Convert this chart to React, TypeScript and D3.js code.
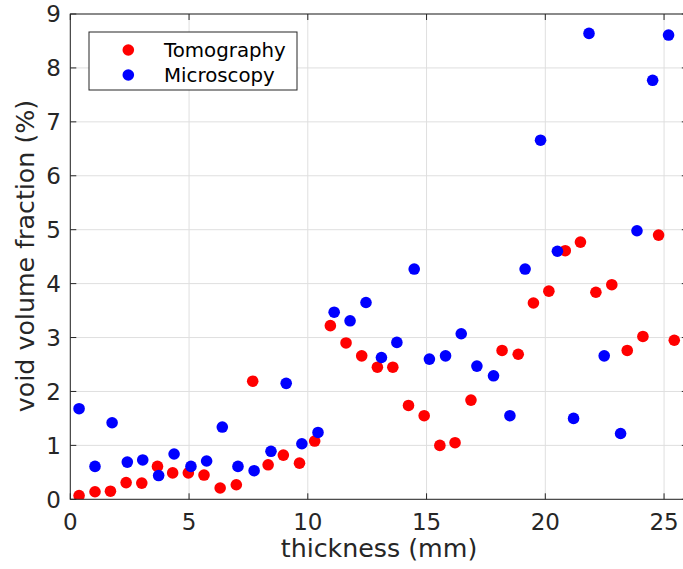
import React from "react";
import * as d3 from "d3";

const tomoX = [0.37,1.04,1.69,2.35,3.01,3.67,4.31,4.97,5.63,6.31,6.99,7.68,8.33,8.97,9.65,10.29,10.95,11.61,12.27,12.93,13.58,14.24,14.90,15.56,16.20,16.87,18.18,18.86,19.50,20.15,20.84,21.48,22.13,22.80,23.45,24.11,24.77,25.43];
const tomoY = [0.07,0.14,0.15,0.31,0.30,0.61,0.49,0.49,0.45,0.21,0.27,2.19,0.64,0.82,0.67,1.08,3.22,2.90,2.66,2.45,2.45,1.74,1.55,1.00,1.05,1.84,2.76,2.69,3.64,3.86,4.61,4.77,3.84,3.98,2.76,3.02,4.90,2.95];

const microX = [0.37,1.04,1.76,2.40,3.05,3.72,4.37,5.08,5.74,6.40,7.06,7.74,8.45,9.09,9.75,10.43,11.11,11.78,12.45,13.10,13.75,14.48,15.12,15.80,16.46,17.12,17.82,18.51,19.15,19.80,20.51,21.19,21.84,22.48,23.17,23.86,24.52,25.19];
const microY = [1.68,0.61,1.42,0.69,0.73,0.44,0.84,0.61,0.71,1.34,0.61,0.53,0.89,2.15,1.03,1.24,3.47,3.31,3.65,2.63,2.91,4.27,2.60,2.66,3.07,2.47,2.29,1.55,4.27,6.66,4.60,1.50,8.64,2.66,1.22,4.98,7.77,8.61];

const xTicks = [0, 5, 10, 15, 20, 25];
const yTicks = [0, 1, 2, 3, 4, 5, 6, 7, 8, 9];
const seriesNames = ["Tomography", "Microscopy"];
const seriesColors = ["#ff0000", "#0000ff"];

const W = 683, H = 569;
const L = 70.3, R = 687.8, T = 14, B = 499.3;
const ink = "#262626";
const font = "'DejaVu Sans', sans-serif";

export default function App() {
  const x = d3.scaleLinear().domain([0, 26]).range([L, R]);
  const y = d3.scaleLinear().domain([0, 9]).range([B, T]);
  const tickLen = 6;
  const r = 5.8;
  const series = [
    { xs: tomoX, ys: tomoY, color: seriesColors[0] },
    { xs: microX, ys: microY, color: seriesColors[1] },
  ];
  return (
    <svg width={W} height={H} style={{ position: "fixed", left: 0, top: 0, background: "#fff" }}>
      <defs>
        <clipPath id="plot">
          <rect x={L} y={T} width={R - L} height={B - T} />
        </clipPath>
      </defs>
      <rect x={0} y={0} width={W} height={H} fill="#fff" />
      {/* grid */}
      <g stroke="#dfdfdf" strokeWidth={1}>
        {xTicks.map((t) => (
          <line key={"gx" + t} x1={x(t)} x2={x(t)} y1={T} y2={B} />
        ))}
        {yTicks.map((t) => (
          <line key={"gy" + t} x1={L} x2={R} y1={y(t)} y2={y(t)} />
        ))}
      </g>
      {/* points */}
      <g clipPath="url(#plot)">
        {series.map((s, si) =>
          s.xs.map((xv, i) => (
            <circle key={si + "-" + i} cx={x(xv)} cy={y(s.ys[i])} r={r} fill={s.color} />
          ))
        )}
      </g>
      {/* axes box */}
      <g stroke={ink} strokeWidth={1} fill="none">
        <rect x={L} y={T} width={R - L} height={B - T} />
        {xTicks.map((t) => (
          <g key={"tx" + t}>
            <line x1={x(t)} x2={x(t)} y1={B} y2={B - tickLen} />
            <line x1={x(t)} x2={x(t)} y1={T} y2={T + tickLen} />
          </g>
        ))}
        {yTicks.map((t) => (
          <g key={"ty" + t}>
            <line x1={L} x2={L + tickLen} y1={y(t)} y2={y(t)} />
            <line x1={R} x2={R - tickLen} y1={y(t)} y2={y(t)} />
          </g>
        ))}
      </g>
      {/* tick labels */}
      <g fill={ink} fontFamily={font} fontSize={23}>
        {xTicks.map((t) => (
          <text key={"lx" + t} x={x(t)} y={530} textAnchor="middle">{t}</text>
        ))}
        {yTicks.map((t) => (
          <text key={"ly" + t} x={61} y={y(t) + 8.4} textAnchor="end">{t}</text>
        ))}
      </g>
      {/* axis labels */}
      <text x={379} y={557} textAnchor="middle" fill={ink} fontFamily={font} fontSize={25.3}>
        thickness (mm)
      </text>
      <text
        transform={`translate(34, 256) rotate(-90)`}
        textAnchor="middle"
        fill={ink}
        fontFamily={font}
        fontSize={25.3}
      >
        void volume fraction (%)
      </text>
      {/* legend */}
      <rect x={89} y={32} width={208} height={58} fill="#fff" stroke={ink} strokeWidth={1} />
      {seriesNames.map((n, i) => (
        <g key={n}>
          <circle cx={128.3} cy={50 + i * 25} r={r} fill={seriesColors[i]} />
          <text x={164} y={57 + i * 25} fill="#000" fontFamily={font} fontSize={19.8}>{n}</text>
        </g>
      ))}
    </svg>
  );
}
